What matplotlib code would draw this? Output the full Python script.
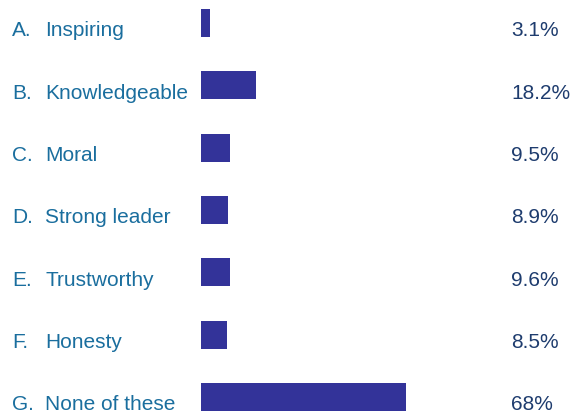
import matplotlib
matplotlib.use("Agg")
import matplotlib.pyplot as plt
import matplotlib.transforms as mtransforms

letters = ["A.", "B.", "C.", "D.", "E.", "F.", "G."]
options = ["Inspiring", "Knowledgeable", "Moral", "Strong leader",
           "Trustworthy", "Honesty", "None of these"]
values = [3.1, 18.2, 9.5, 8.9, 9.6, 8.5, 68]
value_labels = ["3.1%", "18.2%", "9.5%", "8.9%", "9.6%", "8.5%", "68%"]

W, H = 574, 415
fig = plt.figure(figsize=(W / 100, H / 100), dpi=100)
fig.patch.set_facecolor("white")

# axes: x from 201px, 0..100% spans 301px ; full height
ax = fig.add_axes([201 / W, 0, 301 / W, 1])
step = 62.3
top_c = 23
ax.set_xlim(0, 100)
ax.set_ylim((H - top_c) / step, -top_c / step)
ax.axis("off")

ypos = list(range(len(values)))
ax.barh(ypos, values, height=28 / step, left=0, color="#333399")

plt.rcParams["font.family"] = ["Liberation Sans", "DejaVu Sans"]
trans = mtransforms.blended_transform_factory(fig.transFigure, ax.transData)
lab_color = "#1a6e9e"
pct_color = "#1e3c6e"
off = 13.5 / step  # text baseline sits near the bar bottom
for i in ypos:
    ax.text(12 / W, i + off, letters[i], transform=trans, fontsize=15,
            color=lab_color, va="baseline", ha="left")
    ax.text(45 / W, i + off, options[i], transform=trans, fontsize=15,
            color=lab_color, va="baseline", ha="left")
    ax.text(511 / W, i + off, value_labels[i], transform=trans, fontsize=15,
            color=pct_color, va="baseline", ha="left")

fig.savefig("out.png", dpi=100)
